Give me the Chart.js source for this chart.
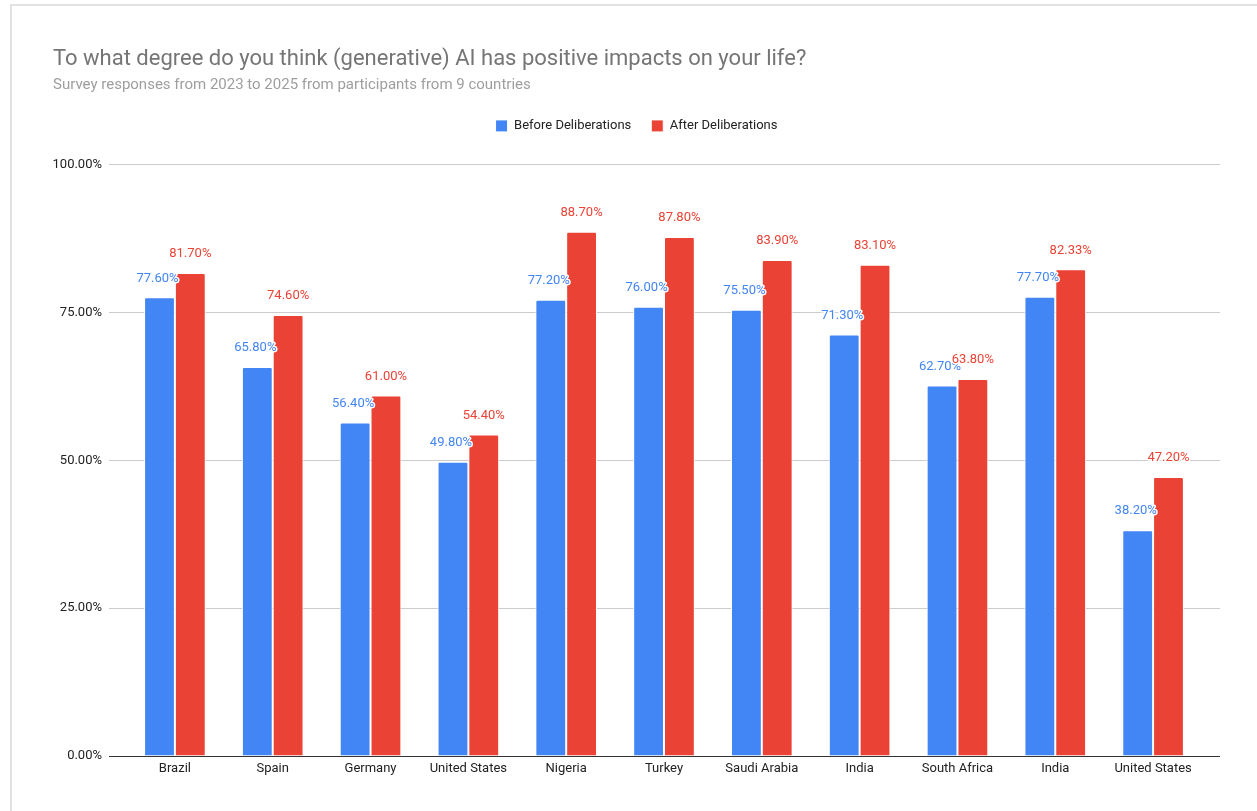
<!DOCTYPE html>
<html>
<head>
<meta charset="utf-8">
<script src="https://cdn.jsdelivr.net/npm/chart.js@4.4.1/dist/chart.umd.min.js"></script>
<style>
  html, body { margin: 0; padding: 0; background: #fff; overflow: hidden; }
  #frame { position: absolute; left: 10px; top: 4px; width: 1300px; height: 900px; border: 2px solid #e2e2e2; }
  #myChart { position: absolute; left: 0; top: 0; }
</style>
</head>
<body>
<div id="frame"></div>
<canvas id="myChart" width="1257" height="811"></canvas>
<script>
// 数据
var countries = ['Brazil', 'Spain', 'Germany', 'United States', 'Nigeria', 'Turkey',
    'Saudi Arabia', 'India', 'South Africa', 'India', 'United States'];
var beforeValues = [77.6, 65.8, 56.4, 49.8, 77.2, 76.0, 75.5, 71.3, 62.7, 77.7, 38.2];
var afterValues = [81.7, 74.6, 61.0, 54.4, 88.7, 87.8, 83.9, 83.1, 63.8, 82.33, 47.2];
var yTicks = [0, 25, 50, 75, 100];

var blue = '#4285f4';
var red = '#ea4335';
var gridColor = '#cccccc';
var zeroColor = '#333333';

function lineColor(c) {
    return c.tick && c.tick.value === 0 ? zeroColor : gridColor;
}

// 柱子上方的数值标签
var valueLabels = {
    id: 'valueLabels',
    afterDatasetsDraw: function (chart) {
        var ctx = chart.ctx;
        ctx.save();
        ctx.font = '13px Roboto';
        ctx.textAlign = 'center';
        ctx.textBaseline = 'middle';
        ctx.lineJoin = 'round';
        chart.data.datasets.forEach(function (ds, di) {
            var meta = chart.getDatasetMeta(di);
            meta.data.forEach(function (bar, i) {
                var txt = ds.data[i].toFixed(2) + '%';
                var x = bar.x + (di === 0 ? -2 : 0);
                var y = bar.y - 19;
                ctx.lineWidth = 3;
                ctx.strokeStyle = '#ffffff';
                ctx.strokeText(txt, x, y);
                ctx.fillStyle = ds.backgroundColor;
                ctx.fillText(txt, x, y);
            });
        });
        ctx.restore();
    }
};

var ctx = document.getElementById('myChart');
var myChart = new Chart(ctx, {
    type: 'bar',
    data: {
        labels: countries,
        datasets: [{
            label: 'Before Deliberations',
            data: beforeValues,
            backgroundColor: blue,
            borderColor: '#ffffff',
            borderWidth: 1,
            borderRadius: 2,
            borderSkipped: 'bottom'
        }, {
            label: 'After Deliberations',
            data: afterValues,
            backgroundColor: red,
            borderColor: '#ffffff',
            borderWidth: 1,
            borderRadius: 2,
            borderSkipped: 'bottom'
        }]
    },
    plugins: [valueLabels],
    options: {
        responsive: false,
        animation: false,
        categoryPercentage: 0.63,
        barPercentage: 1,
        layout: {
            padding: { left: 53, right: 37, top: 0, bottom: 25 }
        },
        plugins: {
            title: {
                display: true,
                text: 'To what degree do you think (generative) AI has positive impacts on your life?',
                align: 'start',
                color: '#757575',
                font: { family: 'Roboto', size: 22, weight: 'normal', lineHeight: 1.2 },
                padding: { top: 46, bottom: 2 }
            },
            subtitle: {
                display: true,
                text: 'Survey responses from 2023 to 2025 from participants from 9 countries',
                align: 'start',
                color: '#9e9e9e',
                font: { family: 'Roboto', size: 15, weight: 'normal', lineHeight: 1.2 },
                padding: { top: 2, bottom: 5 }
            },
            legend: {
                position: 'top',
                labels: {
                    color: '#222222',
                    font: { family: 'Roboto', size: 13 },
                    boxWidth: 12,
                    boxHeight: 12,
                    padding: 20
                }
            },
            tooltip: { enabled: false }
        },
        scales: {
            x: {
                grid: { display: false, drawTicks: false },
                border: { display: false },
                ticks: {
                    color: '#222222',
                    font: { family: 'Roboto', size: 13 },
                    padding: 5,
                    autoSkip: false,
                    maxRotation: 0
                },
                afterFit: function (scale) { scale.height = 30; }
            },
            // 顶部空轴，只用来留出图例下方的空白
            xTop: {
                type: 'category',
                position: 'top',
                grid: { display: false, drawTicks: false },
                border: { display: false },
                ticks: { display: false },
                afterFit: function (scale) { scale.height = 22.5; }
            },
            y: {
                min: 0,
                max: 100,
                afterBuildTicks: function (scale) {
                    scale.ticks = yTicks.map(function (v) { return { value: v }; });
                },
                grid: {
                    color: lineColor,
                    tickColor: lineColor,
                    tickLength: 17
                },
                border: { display: false },
                ticks: {
                    color: '#222222',
                    font: { family: 'Roboto', size: 13 },
                    padding: 7,
                    callback: function (v) { return v.toFixed(2) + '%'; }
                },
                afterFit: function (scale) { scale.width = 73; }
            },
            y2: {
                position: 'right',
                min: 0,
                max: 100,
                afterBuildTicks: function (scale) {
                    scale.ticks = yTicks.map(function (v) { return { value: v }; });
                },
                grid: {
                    drawOnChartArea: false,
                    color: lineColor,
                    tickColor: lineColor,
                    tickLength: 18
                },
                border: { display: false },
                ticks: { display: false },
                afterFit: function (scale) { scale.width = 18; }
            }
        }
    }
});
</script>
</body>
</html>
